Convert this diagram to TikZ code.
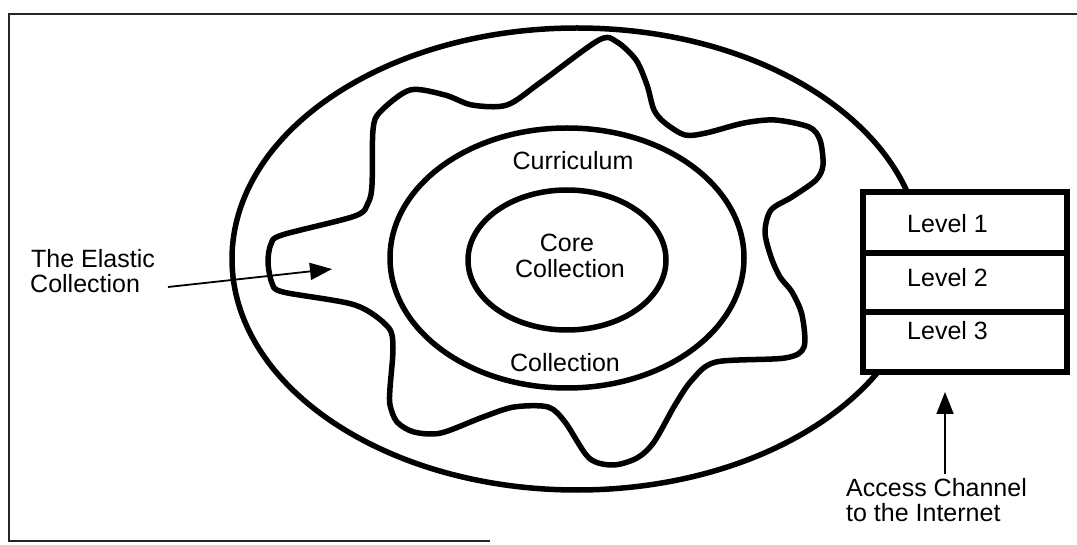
\documentclass[tikz,border=0pt]{standalone}
\usepackage{fontspec}
\setmainfont{Liberation Sans}
\usetikzlibrary{arrows.meta}
\begin{document}
\begin{tikzpicture}[x=1pt,y=-1pt,
  thickline/.style={line width=5.5pt},
  boxline/.style={line width=6.5pt},
  framel/.style={line width=1.6pt,black!85},
  lbl/.style={font=\fontsize{25}{25}\selectfont, inner sep=0pt},
  ptr/.style={line width=1.8pt,-{Triangle[length=22pt,width=17pt]}}]
\useasboundingbox (0,0) rectangle (1077,545);
% partial frame
\draw[framel] (1077,14) -- (9,14) -- (9,541) -- (490,541);
% outer ellipse
\draw[thickline] (577,259) ellipse [x radius=345, y radius=231];
% elastic blob
\draw[thickline, line join=round] plot[smooth cycle, tension=0.5] coordinates {
(268,262) (271,244) (282,235) (355,216) (368,203) (372,185) (373,130)
(380,112) (410,90) (445,95) (472,105) (507,105) (541,82) (599,40)
(617,42) (636,60) (647,85) (654,110) (665,123) (685,135) (706,133)
(744,123) (775,120) (809,127) (820,140) (823,165) (816,180) (792,197)
(771,210) (765,232) (771,257) (780,277) (792,292) (802,315) (804,347)
(785,358) (716,362) (692,380) (675,405) (654,442) (637,458) (613,465)
(589,458) (565,422) (548,407) (514,407) (483,417) (441,433) (414,432)
(397,422) (390,405) (390,388) (393,348) (388,327) (355,305) (283,292)
(272,283)};
% curriculum ellipse
\draw[thickline] (567,258) ellipse [x radius=177, y radius=130];
% core ellipse
\draw[thickline] (567,260) ellipse [x radius=99, y radius=70];
% levels box
\draw[boxline, fill=white] (863,192) rectangle (1067,372);
\draw[boxline] (863,253) -- (1067,253);
\draw[boxline] (863,312) -- (1067,312);
% texts
\node[lbl, anchor=base] (curr) at (573,170) {Curriculum};
\node[lbl, anchor=base] (coll) at (565,372) {Collection};
\node[lbl, anchor=base] (core1) at (567,252) {Core};
\node[lbl, anchor=base] (core2) at (570,278) {Collection};
\node[lbl, anchor=base west] (el1) at (31,268) {The Elastic};
\node[lbl, anchor=base west] (el2) at (30,293) {Collection};
\node[lbl, anchor=base west] (lv1) at (907,233) {Level 1};
\node[lbl, anchor=base west] (lv2) at (907,287) {Level 2};
\node[lbl, anchor=base west] (lv3) at (907,340) {Level 3};
\node[lbl, anchor=base west] (ac1) at (846,496) {Access Channel};
\node[lbl, anchor=base west] (ac2) at (846,521) {to the Internet};
% arrows
\coordinate (ea) at (168,287);
\coordinate (eb) at (332,269);
\draw[ptr] (ea) -- (eb);
\coordinate (aa) at (945,474);
\coordinate (ab) at (945,392);
\draw[ptr] (aa) -- (ab);
\end{tikzpicture}
\end{document}
